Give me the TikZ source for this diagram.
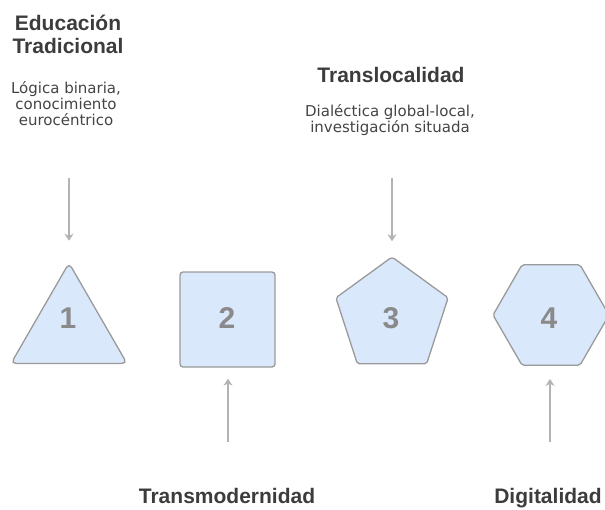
\documentclass[tikz,border=0pt]{standalone}
\usepackage{fontspec}
\setmainfont{Liberation Sans}
\newfontfamily\subfont{DejaVu Sans}
\usetikzlibrary{shapes.geometric,arrows.meta}
\definecolor{titlecol}{HTML}{3C3C3C}
\definecolor{subcol}{HTML}{444444}
\definecolor{numcol}{HTML}{8A8A8A}
\definecolor{fillcol}{HTML}{DAE8FC}
\definecolor{bordercol}{HTML}{9A9A9A}
\definecolor{arrcol}{HTML}{B3B3B3}
\begin{document}
\begin{tikzpicture}[x=1pt,y=-1pt,
  title/.style={font=\fontsize{21}{23}\selectfont\bfseries, text=titlecol, align=center, inner sep=0},
  sub/.style={font=\subfont\fontsize{15}{16}\selectfont, text=subcol, align=center, inner sep=0},
  shp/.style={draw=bordercol, fill=fillcol, line width=1.3pt, inner sep=0},
  num/.style={font=\fontsize{30}{30}\selectfont\bfseries, text=numcol, inner sep=0},
  arr/.style={draw=arrcol, line width=2pt, -{Stealth[length=7pt,width=9pt]}}]
\useasboundingbox (0,0) rectangle (605,509);
\clip (0,0) rectangle (605,509);
% shapes
\node[shp, regular polygon, regular polygon sides=3, minimum size=134pt, rounded corners=5pt] (s1) at (69,330) {};
\node[shp, rectangle, minimum size=95pt, rounded corners=3pt] (s2) at (227.5,319.5) {};
\node[shp, regular polygon, regular polygon sides=5, minimum size=118pt, rounded corners=2pt] (s3) at (392,316) {};
\node[shp, regular polygon, regular polygon sides=6, minimum size=116pt, rounded corners=2pt] (s4) at (551,315) {};
% numbers
\node[num] (n1) at (68,318) {1};
\node[num] (n2) at (227,318) {2};
\node[num] (n3) at (391,318) {3};
\node[num] (n4) at (549,318) {4};
% texts
\node[title, anchor=base] (t1) at (68,53) {Educación\\Tradicional};
\node[sub] (d1) at (66,104) {Lógica binaria,\\conocimiento\\eurocéntrico};
\node[title, anchor=base] (t3) at (391,82) {Translocalidad};
\node[sub] (d3) at (390,120) {Dialéctica global-local,\\investigación situada};
\node[title, anchor=base] (t2) at (227,503) {Transmodernidad};
\node[title, anchor=base] (t4) at (548,503) {Digitalidad};
% arrows
\coordinate (a1) at (69,178);
\coordinate (a3) at (392,178);
\coordinate (a2) at (228,442);
\coordinate (a4) at (550,442);
\draw[arr, shorten >=21pt] (a1) -- (a1 |- s1.north);
\draw[arr, shorten >=15pt] (a3) -- (a3 |- s3.north);
\draw[arr, shorten >=11pt] (a2) -- (a2 |- s2.south);
\draw[arr, shorten >=13pt] (a4) -- (a4 |- s4.south);
\end{tikzpicture}
\end{document}
